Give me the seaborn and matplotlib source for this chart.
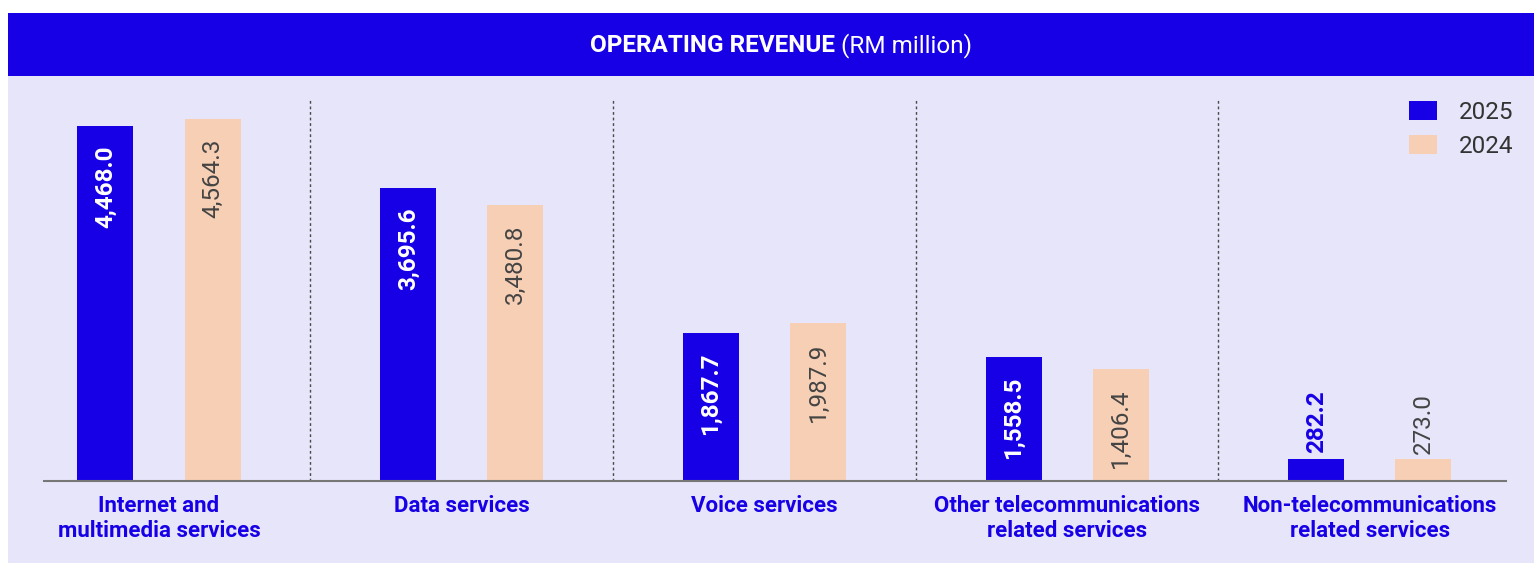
import matplotlib
matplotlib.use("Agg")
import matplotlib.pyplot as plt
from matplotlib.patches import Rectangle
import seaborn as sns
import pandas as pd

# ---- data ----
categories = ["Internet and\nmultimedia services", "Data services", "Voice services",
              "Other telecommunications\nrelated services", "Non-telecommunications\nrelated services"]
years = ["2025", "2024"]
rev_2025 = [4468.0, 3695.6, 1867.7, 1558.5, 282.2]
rev_2024 = [4564.3, 3480.8, 1987.9, 1406.4, 273.0]
title_bold = "OPERATING REVENUE"
title_unit = "(RM million)"

BLUE = "#1700E6"
PEACH = "#F6CFB5"
LAV = "#E6E5FA"

sns.set_style("white")
plt.rcParams["font.family"] = ["Roboto", "DejaVu Sans"]

df = pd.DataFrame({
    "category": categories * 2,
    "year": [years[0]] * len(categories) + [years[1]] * len(categories),
    "revenue": rev_2025 + rev_2024,
})

W, H = 1534, 563
fig = plt.figure(figsize=(W / 100, H / 100), dpi=100)
fig.patch.set_facecolor("white")

# panel background and header band
fig.patches.append(Rectangle((8 / W, 0), (W - 8) / W, (H - 76) / H, transform=fig.transFigure,
                             facecolor=LAV, edgecolor="none", zorder=-2))
fig.patches.append(Rectangle((8 / W, 1 - 76 / H), (W - 8) / W, 63 / H, transform=fig.transFigure,
                             facecolor=BLUE, edgecolor="none", zorder=-2))
fig.text(835 / W, 1 - 52 / H, title_bold, color="white", fontsize=17.5, fontweight="bold",
         ha="right", va="baseline")
fig.text(841 / W, 1 - 52 / H, title_unit, color="white", fontsize=17.5, ha="left", va="baseline")

ax_left, ax_right, ax_top, ax_bottom = 44, 1506, 100, 481
ax = fig.add_axes([ax_left / W, 1 - ax_bottom / H, (ax_right - ax_left) / W, (ax_bottom - ax_top) / H])
ax.set_zorder(2)
ax.set_facecolor(LAV)

sns.barplot(data=df, x="category", y="revenue", hue="year", hue_order=years,
            palette=[BLUE, PEACH], width=0.708, gap=0.477, ax=ax, legend=True,
            saturation=1, edgecolor="none", linewidth=0)

YMAX = 4800
ax.set_ylim(0, YMAX)
ax.set_xlim(-0.38, 4.45)
px_per_unit = (ax_bottom - ax_top) / YMAX

# separators
for xs in [0.5, 1.5, 2.5, 3.5]:
    ax.axvline(xs, color="#4a4a4a", lw=1, ls=(0, (2, 2)), zorder=1)

# value labels
series = [rev_2025, rev_2024]
for i, cont in enumerate(ax.containers):
    for bar, v in zip(cont, series[i]):
        xc = bar.get_x() + bar.get_width() / 2
        txt = f"{v:,.1f}"
        inside = v * px_per_unit > 105
        if i == 0:
            col_in, col_out, wt = "white", BLUE, "bold"
        else:
            col_in, col_out, wt = "#444444", "#444444", "normal"
        if inside:
            ax.annotate(txt, (xc, v), xytext=(0, -14), textcoords="offset points",
                        rotation=90, ha="center", va="top", color=col_in,
                        fontsize=17.5, fontweight=wt)
        else:
            ax.annotate(txt, (xc, v), xytext=(0, 4), textcoords="offset points",
                        rotation=90, ha="center", va="bottom", color=col_out,
                        fontsize=17.5, fontweight=wt)

# axes styling
for s in ["top", "right", "left"]:
    ax.spines[s].set_visible(False)
ax.spines["bottom"].set_color("#777777")
ax.spines["bottom"].set_linewidth(1.5)
ax.set_yticks([])
ax.set_xlabel("")
ax.set_ylabel("")
ax.tick_params(axis="x", length=0, pad=10, labelsize=16, labelcolor=BLUE)
plt.setp(ax.get_xticklabels(), fontweight="bold", linespacing=1.2)

# legend
handles, labels = ax.get_legend_handles_labels()
fs_px = 17.5 * 100 / 72
leg = ax.legend(handles, labels, loc="upper right", bbox_to_anchor=(1513 / W, 1 - 101 / H),
                bbox_transform=fig.transFigure, frameon=False, fontsize=17.5,
                handlelength=28 / fs_px, handleheight=19 / fs_px, handletextpad=22 / fs_px,
                labelspacing=0.45, borderpad=0, borderaxespad=0)
for t in leg.get_texts():
    t.set_color("#333333")

fig.savefig("out.png", dpi=100, facecolor="white")
